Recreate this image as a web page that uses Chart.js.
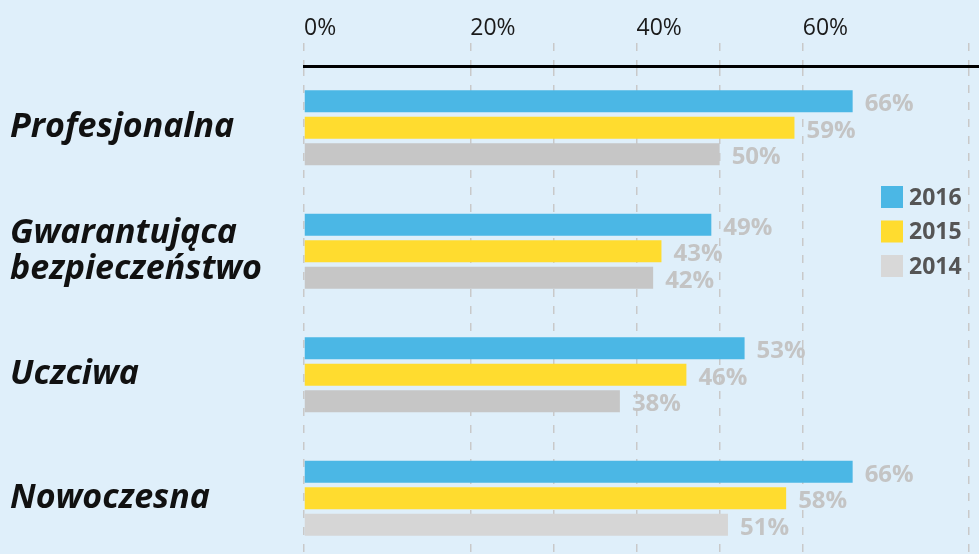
<!DOCTYPE html>
<html lang="pl">
<head>
<meta charset="utf-8">
<title>Cechy – 2014–2016</title>
<script src="https://cdn.jsdelivr.net/npm/chart.js@4/dist/chart.umd.min.js"></script>
<style>
  html, body { margin: 0; padding: 0; background: #dfeffa; overflow: hidden; }
  #wrap { width: 979px; height: 554px; overflow: hidden; position: relative; }
  canvas { display: block; }
</style>
</head>
<body>
<div id="wrap"><canvas id="chart" width="979" height="560"></canvas></div>
<script>
// Categories (one group of bars per trait)
const categories = ['Profesjonalna', ['Gwarantująca', 'bezpieczeństwo'], 'Uczciwa', 'Nowoczesna'];

// Share of answers per year, in percent
const years = ['2016', '2015', '2014'];
const values2016 = [66, 49, 53, 66];
const values2015 = [59, 43, 46, 58];
const values2014 = [50, 42, 38, 51];

// Labelled positions on the value axis
const tickLabels = [0, 20, 40, 60];
// Value-axis lines that are left out
const hiddenGridValues = [10, 70];

const FONT = '"Open Sans", "DejaVu Sans", sans-serif';
const colors2016 = '#4bb7e5';
const colors2015 = '#ffdc2f';
const colors2014 = ['#c6c6c6', '#c6c6c6', '#c6c6c6', '#d6d6d6'];
const legendColors = [colors2016, colors2015, '#d8d8d8'];

// Value text to the right of each bar
const valueLabels = {
  id: 'valueLabels',
  afterDatasetsDraw(chart) {
    const ctx = chart.ctx;
    ctx.save();
    ctx.font = 'bold 24px ' + FONT;
    ctx.fillStyle = '#c4c4c4';
    ctx.textAlign = 'left';
    ctx.textBaseline = 'middle';
    chart.data.datasets.forEach((ds, di) => {
      chart.getDatasetMeta(di).data.forEach((bar, i) => {
        ctx.fillText(ds.data[i] + '%', bar.x + 12, bar.y + 3);
      });
    });
    ctx.restore();
  }
};

// Square-swatch legend on the right
const sideLegend = {
  id: 'sideLegend',
  afterDraw(chart, args, opts) {
    const ctx = chart.ctx;
    ctx.save();
    ctx.font = 'bold 23px ' + FONT;
    ctx.textAlign = 'left';
    ctx.textBaseline = 'middle';
    chart.data.datasets.forEach((ds, i) => {
      const y = opts.top + i * opts.step;
      ctx.fillStyle = legendColors[i];
      ctx.fillRect(opts.left, y, opts.box, opts.box);
      ctx.fillStyle = '#555555';
      ctx.fillText(ds.label, opts.left + opts.box + 6, y + opts.box / 2 + 1);
    });
    ctx.restore();
  }
};

new Chart(document.getElementById('chart'), {
  type: 'bar',
  data: {
    labels: categories,
    datasets: [
      { label: years[0], data: values2016, backgroundColor: colors2016 },
      { label: years[1], data: values2015, backgroundColor: colors2015 },
      { label: years[2], data: values2014, backgroundColor: colors2014 }
    ]
  },
  options: {
    indexAxis: 'y',
    responsive: false,
    animation: false,
    events: [],
    layout: { padding: { left: 10, right: 0, top: 0, bottom: 0 } },
    datasets: { bar: { categoryPercentage: 0.644, barPercentage: 0.83, borderWidth: 0 } },
    plugins: {
      legend: { display: false },
      tooltip: { enabled: false },
      sideLegend: { left: 881, top: 186, step: 34.5, box: 22 }
    },
    scales: {
      x: {
        position: 'top',
        min: 0,
        max: 81.2,
        afterFit(scale) { scale.height = 66; },
        ticks: {
          stepSize: 10,
          includeBounds: false,
          align: 'start',
          maxRotation: 0,
          autoSkip: false,
          padding: 1,
          color: '#1a1a1a',
          font: { family: FONT, size: 23, weight: 'normal' },
          callback: (v) => tickLabels.includes(v) ? v + '%' : ''
        },
        grid: {
          drawOnChartArea: true,
          drawTicks: true,
          tickLength: 23,
          lineWidth: 1.5,
          color: (c) => hiddenGridValues.includes(c.tick && c.tick.value) ? 'rgba(0,0,0,0)' : '#c9c9c9',
          tickColor: (c) => hiddenGridValues.includes(c.tick && c.tick.value) ? 'rgba(0,0,0,0)' : '#c9c9c9',
          tickBorderDash: [8, 9]
        },
        border: { display: true, color: '#000000', width: 3, dash: [8, 9] }
      },
      y: {
        afterFit(scale) {
          scale.width = 294;
          scale.paddingTop = 0;
          scale.paddingBottom = 0;
        },
        grid: { display: false },
        border: { display: false },
        ticks: {
          crossAlign: 'far',
          color: '#111111',
          font: { family: FONT, size: 34, weight: 'bold', style: 'italic', lineHeight: 1.08 }
        }
      }
    }
  },
  plugins: [valueLabels, sideLegend]
});
</script>
</body>
</html>
